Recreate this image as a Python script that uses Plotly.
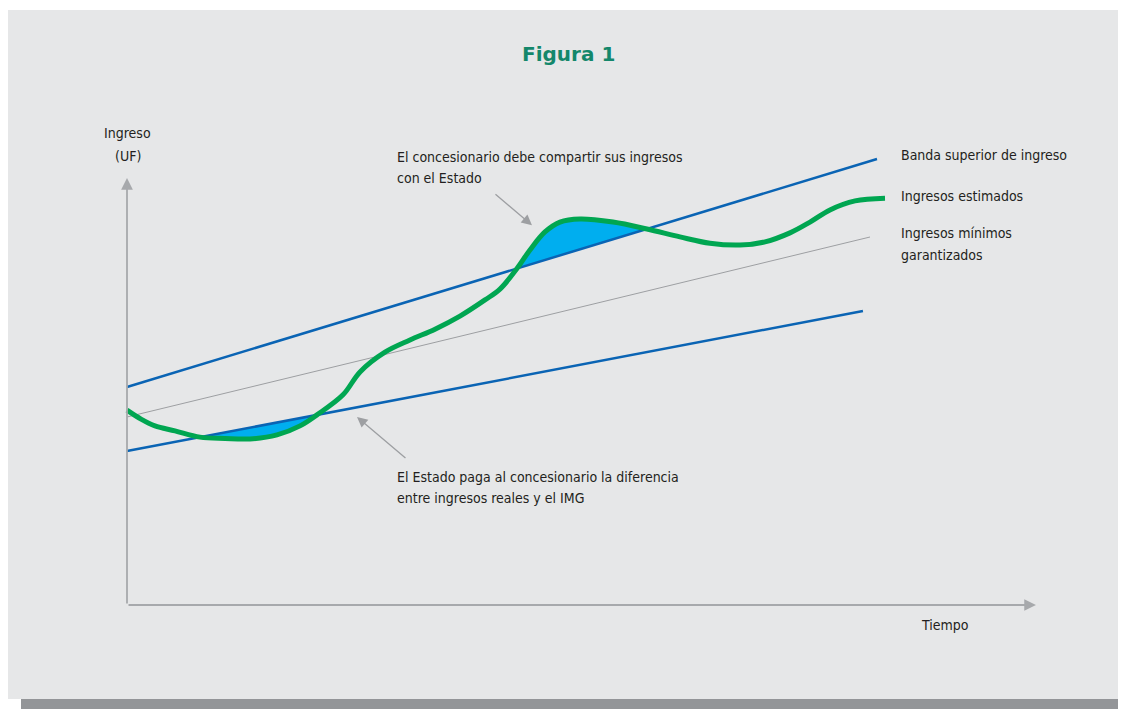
import plotly.graph_objects as go

# ---- data (time units 0..100, income units) ----
upper_t = [0, 100]
upper_y = [48.44, 99.1]
lower_t = [0, 98.13]
lower_y = [34.22, 65.33]
img_t = [0, 99.07]
img_y = [41.78, 81.78]

green_t = [0, 1.87, 3.73, 6.4, 9.73, 13.07, 16.4, 20.0, 23.07, 25.33, 28.8, 31.07,
           34.4, 37.73, 41.07, 44.4, 47.73, 49.73, 52.0, 53.73, 55.73, 57.73, 60.4,
           64.8, 69.33, 73.73, 77.73, 81.73, 85.07, 88.4, 91.07, 93.73, 97.07, 101.07]
green_y = [43.3, 41.3, 39.8, 38.7, 37.3, 37.0, 36.9, 37.8, 39.8, 42.25, 46.7, 51.8,
           56.2, 58.9, 61.3, 64.2, 67.8, 70.2, 74.78, 78.9, 82.9, 85.1, 85.8,
           85.1, 83.56, 81.8, 80.4, 80.0, 80.7, 82.7, 85.1, 87.8, 89.8, 90.4]

# shaded segments (indices into green arrays between crossings)
low_seg = (4, 9)    # green below lower band
up_seg = (18, 24)   # green above upper band

BLUE = "#0a64b4"
GREEN = "#00a651"
FILL = "#00aeef"
GRAY = "#9d9fa2"
AXIS = "#a7a9ac"
TXT = "#231f20"
FONT = "Liberation Sans Narrow, DejaVu Sans Condensed, sans-serif"

W, H = 1126, 709  # page body has an 8px margin; overflow is clipped


def band(ts, ys, t):
    return ys[0] + (ys[1] - ys[0]) * (t - ts[0]) / (ts[1] - ts[0])


fig = go.Figure()

# shaded region below lower band
a, b = low_seg
fig.add_trace(go.Scatter(x=[green_t[a], green_t[b]],
                         y=[band(lower_t, lower_y, green_t[a]), band(lower_t, lower_y, green_t[b])],
                         mode="lines", line=dict(width=0, color=FILL), showlegend=False, hoverinfo="skip"))
fig.add_trace(go.Scatter(x=green_t[a:b + 1], y=green_y[a:b + 1], mode="lines",
                         line=dict(width=0, color=FILL, shape="spline"), fill="tonexty",
                         fillcolor=FILL, showlegend=False, hoverinfo="skip"))
# shaded region above upper band
a, b = up_seg
fig.add_trace(go.Scatter(x=[green_t[a], green_t[b]],
                         y=[band(upper_t, upper_y, green_t[a]), band(upper_t, upper_y, green_t[b])],
                         mode="lines", line=dict(width=0, color=FILL), showlegend=False, hoverinfo="skip"))
fig.add_trace(go.Scatter(x=green_t[a:b + 1], y=green_y[a:b + 1], mode="lines",
                         line=dict(width=0, color=FILL, shape="spline"), fill="tonexty",
                         fillcolor=FILL, showlegend=False, hoverinfo="skip"))

# lines
fig.add_trace(go.Scatter(x=img_t, y=img_y, mode="lines", line=dict(color=GRAY, width=1),
                         showlegend=False))
fig.add_trace(go.Scatter(x=upper_t, y=upper_y, mode="lines", line=dict(color=BLUE, width=2.5),
                         showlegend=False))
fig.add_trace(go.Scatter(x=lower_t, y=lower_y, mode="lines", line=dict(color=BLUE, width=2.5),
                         showlegend=False))
fig.add_trace(go.Scatter(x=green_t, y=green_y, mode="lines",
                         line=dict(color=GREEN, width=5, shape="spline", smoothing=1),
                         showlegend=False))

ann = []
# axes arrows
ann.append(dict(x=0, y=94.9, ax=0, ay=0, xref="x", yref="y", axref="x", ayref="y",
                showarrow=True, arrowhead=2, arrowsize=1.3, arrowwidth=1.8, arrowcolor=AXIS, text=""))
ann.append(dict(x=121.2, y=0, ax=0, ay=0, xref="x", yref="y", axref="x", ayref="y",
                showarrow=True, arrowhead=2, arrowsize=1.3, arrowwidth=1.8, arrowcolor=AXIS, text=""))
# pointer arrows
ann.append(dict(x=54.0, y=84.4, ax=48.93, ay=91.56, xref="x", yref="y", axref="x", ayref="y",
                showarrow=True, arrowhead=2, arrowsize=1.6, arrowwidth=1.3, arrowcolor=GRAY, text=""))
ann.append(dict(x=30.67, y=41.8, ax=37.33, ay=32.4, xref="x", yref="y", axref="x", ayref="y",
                showarrow=True, arrowhead=2, arrowsize=1.6, arrowwidth=1.3, arrowcolor=GRAY, text=""))


def label(text, x, y, xanchor="left"):
    ann.append(dict(text=text, x=x, y=y, xref="x", yref="y", showarrow=False,
                    xanchor=xanchor, yanchor="middle",
                    font=dict(family=FONT, size=14, color=TXT)))


label("Ingreso", 0.13, 104.9, "center")
label("(UF)", 0.13, 99.8, "center")
label("El concesionario debe compartir sus ingresos", 35.73, 99.6)
label("con el Estado", 35.73, 94.8)
label("Banda superior de ingreso", 102.9, 100.0)
label("Ingresos estimados", 102.9, 90.9)
label("Ingresos mínimos", 102.9, 82.6)
label("garantizados", 102.9, 77.8)
label("El Estado paga al concesionario la diferencia", 35.73, 28.5)
label("entre ingresos reales y el IMG", 35.73, 23.7)
label("Tiempo", 109.07, -4.44, "center")

ann.append(dict(text="<b>Figura 1</b>", x=560 / W, y=1 - 46 / H, xref="paper", yref="paper",
                showarrow=False, xanchor="center", yanchor="middle",
                font=dict(family="DejaVu Sans, sans-serif", size=20, color="#14876b")))

shapes = [
    dict(type="rect", xref="paper", yref="paper", x0=0, x1=1.0, y0=1 - 691 / H, y1=1 - 2 / H,
         fillcolor="#e6e7e8", line=dict(width=0), layer="below"),
    dict(type="rect", xref="paper", yref="paper", x0=13 / W, x1=1.0, y0=0, y1=1 - 691 / H,
         fillcolor="#939598", line=dict(width=0), layer="below"),
]

fig.update_layout(
    width=W, height=H,
    margin=dict(l=0, r=0, t=0, b=0),
    paper_bgcolor="white", plot_bgcolor="rgba(0,0,0,0)",
    xaxis=dict(range=[-15.867, 134.27], visible=False, fixedrange=True),
    yaxis=dict(range=[-24.89, 132.67], visible=False, fixedrange=True),
    annotations=ann, shapes=shapes, showlegend=False,
)

fig.write_html("out.html")
